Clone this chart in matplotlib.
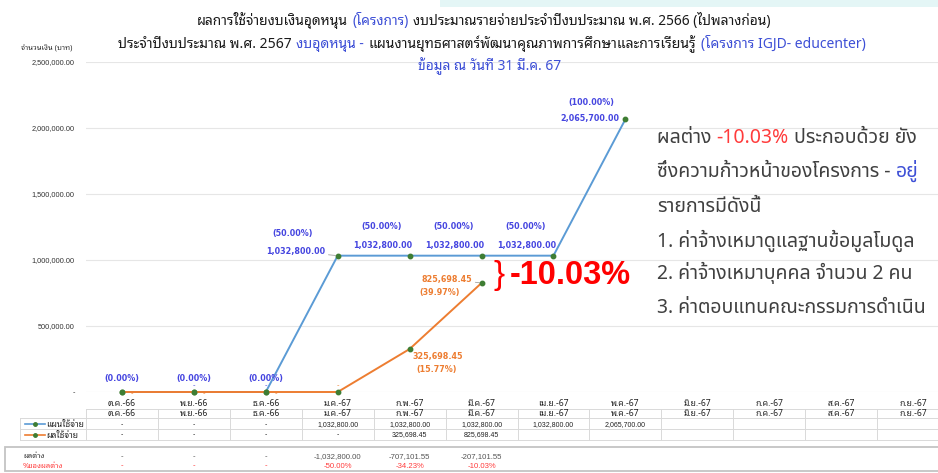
import numpy as np
import matplotlib
matplotlib.use('Agg')
import matplotlib.pyplot as plt
from matplotlib import font_manager as fm
from matplotlib.transforms import blended_transform_factory
from matplotlib.lines import Line2D
from matplotlib.patches import Rectangle

# ---------------- data ----------------
months = ['ต.ค.-66', 'พ.ย.-66', 'ธ.ค.-66', 'ม.ค.-67', 'ก.พ.-67', 'มี.ค.-67',
          'เม.ย.-67', 'พ.ค.-67', 'มิ.ย.-67', 'ก.ค.-67', 'ส.ค.-67', 'ก.ย.-67']
plan = [0, 0, 0, 1032800.00, 1032800.00, 1032800.00, 1032800.00, 2065700.00]
actual = [0, 0, 0, 0, 325698.45, 825698.45]
plan_pct = [0.00, 0.00, 0.00, 50.00, 50.00, 50.00, 50.00, 100.00]
actual_pct = [None, None, None, None, 15.77, 39.97]
diff = [None, None, None, -1032800.00, -707101.55, -207101.55]
diff_pct = [None, None, None, -50.00, -34.23, -10.03]
yticks = [0, 500000, 1000000, 1500000, 2000000, 2500000]
gap_label = '-10.03%'

title1 = [('ผลการใช้จ่ายงบเงินอุดหนุน', 'k'), ('(โครงการ)', 'b'),
          ('งบประมาณรายจ่ายประจำปีงบประมาณ พ.ศ. 2566 (ไปพลางก่อน)', 'k')]
title2 = [('ประจำปีงบประมาณ พ.ศ. 2567', 'k'), ('งบอุดหนุน -', 'b'),
          ('แผนงานยุทธศาสตร์พัฒนาคุณภาพการศึกษาและการเรียนรู้', 'k'),
          ('(โครงการ IGJD- educenter)', 'b')]
title3 = [('ข้อมูล ณ วันที่ 31 มี.ค. 67', 'b')]
ylabel = 'จำนวนเงิน (บาท)'
plan_name = 'แผนใช้จ่าย'
actual_name = 'ผลใช้จ่าย'
diff_name = 'ผลต่าง'
diffpct_name = '%ของผลต่าง'
notes = [
    [('ผลต่าง ', 'g'), ('-10.03%', 'r'), (' ประกอบด้วย ยัง', 'g')],
    [('ซึ่งความก้าวหน้าของโครงการ - ', 'g'), ('อยู่', 'b')],
    [('รายการมีดังนี้', 'g')],
    [('1. ค่าจ้างเหมาดูแลฐานข้อมูลโมดูล', 'g')],
    [('2. ค่าจ้างเหมาบุคคล จำนวน 2 คน', 'g')],
    [('3. ค่าตอบแทนคณะกรรมการดำเนิน', 'g')],
]

# ---------------- fonts ----------------
names = {f.name for f in fm.fontManager.ttflist}
def pick(cands, default='DejaVu Sans'):
    for c in cands:
        if c in names:
            return c
    return default
THAI_T = pick(['Tahoma', 'Noto Sans Thai Looped', 'Loma', 'Noto Sans Thai', 'Sarabun'])
THAI_B = pick(['Noto Sans Thai', 'Noto Sans Thai UI', 'Sarabun', 'Loma'])
FT = [THAI_T, 'DejaVu Sans']
FB = [THAI_B, 'DejaVu Sans']
NUM = ['Liberation Sans', 'DejaVu Sans']

COL = {'k': '#1a1a1a', 'b': '#3d4fd6', 'g': '#404040', 'r': '#ff3b3b'}
BLUE_LBL = '#4545e0'
ORANGE = '#ed7d31'
LBLUE = '#5b9bd5'
MGREEN = '#3e7d33'
GRID = '#d9d9d9'

W, H = 938, 473
def fy(p): return 1 - p / H
def fx(p): return p / W

fig = plt.figure(figsize=(W / 100, H / 100), dpi=100)
fig.patch.set_facecolor('white')
fig.patches.append(Rectangle((fx(440), fy(7)), 1, 7 / H, transform=fig.transFigure,
                             facecolor='#e4f6f6', edgecolor='none'))

ax = fig.add_axes([fx(86), fy(392), 863 / W, (392 - 62) / H])
ax.set_xlim(-0.5, 11.5)
ax.set_ylim(0, 2500000)
for s in ax.spines.values():
    s.set_visible(False)
ax.set_xticks([])
ax.set_yticks(yticks)
ax.set_yticklabels(['-' if v == 0 else f'{v:,.2f}' for v in yticks])
for t in ax.get_yticklabels():
    t.set_fontsize(5.3); t.set_color('#333333'); t.set_family(NUM)
ax.tick_params(axis='y', length=0, pad=8)
ax.yaxis.grid(True, color='#e6e6e6', lw=0.8)
ax.set_axisbelow(True)

xp = np.arange(len(plan))
xa = np.arange(len(actual))
ax.plot(xp, plan, color=LBLUE, lw=1.4, marker='o', ms=3.2, mfc=MGREEN, mec=MGREEN,
        clip_on=False, zorder=3)
ax.plot(xa, actual, color=ORANGE, lw=1.4, marker='o', ms=3.2, mfc=MGREEN, mec=MGREEN,
        clip_on=False, zorder=4)

lblkw = dict(textcoords='offset pixels', fontsize=5.8, fontweight='bold', family=['DejaVu Sans'])
# plan labels
for i, (v, p) in enumerate(zip(plan, plan_pct)):
    ptxt = f'({p:.2f}%)'
    if v == 0:
        ax.annotate(ptxt, (i, v), xytext=(0, 14), ha='center', va='center', color=BLUE_LBL, **lblkw)
        if i > 0:
            ax.annotate('-', (i, v), xytext=(0, 7), ha='center', va='center', color=BLUE_LBL,
                        textcoords='offset pixels', fontsize=5)
        continue
    vtxt = f'{v:,.2f}'
    if i == 3:
        ax.annotate(vtxt, (i, v), xytext=(-12, 4), ha='right', va='center', color=BLUE_LBL,
                    arrowprops=dict(arrowstyle='-', color='#a0a0a0', lw=0.6, shrinkA=0, shrinkB=1.5),
                    **lblkw)
        ax.annotate(ptxt, (i, v), xytext=(-45, 22), ha='center', va='center', color=BLUE_LBL, **lblkw)
    elif v == max(plan):
        ax.annotate(vtxt, (i, v), xytext=(-6, 1), ha='right', va='center', color=BLUE_LBL, **lblkw)
        ax.annotate(ptxt, (i, v), xytext=(-34, 17), ha='center', va='center', color=BLUE_LBL, **lblkw)
    else:
        ax.annotate(vtxt, (i, v), xytext=(-27, 10), ha='center', va='center', color=BLUE_LBL, **lblkw)
        ax.annotate(ptxt, (i, v), xytext=(-28, 29), ha='center', va='center', color=BLUE_LBL, **lblkw)

# actual labels
for i, (v, p) in enumerate(zip(actual, actual_pct)):
    if v == 0:
        if i == 3:
            ax.annotate('-', (i, v), xytext=(0, 7), ha='center', va='center', color=ORANGE,
                        textcoords='offset pixels', fontsize=5)
        else:
            ax.annotate('-', (i, v), xytext=(10, -1), ha='center', va='center', color=ORANGE,
                        textcoords='offset pixels', fontsize=5)
        continue
    vtxt = f'{v:,.2f}'
    ptxt = f'({p:.2f}%)'
    if i == len(actual) - 1:
        ax.annotate(vtxt, (i, v), xytext=(-9, 4), ha='right', va='center', color=ORANGE,
                    arrowprops=dict(arrowstyle='-', color='#a0a0a0', lw=0.6, shrinkA=0, shrinkB=1.5),
                    **lblkw)
        ax.annotate(ptxt, (i, v), xytext=(-42, -9), ha='center', va='center', color=ORANGE, **lblkw)
    else:
        ax.annotate(vtxt, (i, v), xytext=(3, -7), ha='left', va='center', color=ORANGE, **lblkw)
        ax.annotate(ptxt, (i, v), xytext=(27, -20), ha='center', va='center', color=ORANGE, **lblkw)

# big gap annotation
k = len(actual) - 1
mid = (plan[k] + actual[k]) / 2
ax.annotate('}', (k, mid), xytext=(12, -6), textcoords='offset pixels', ha='left', va='center',
            color='#ff0000', fontsize=24, family=NUM)
ax.annotate(gap_label, (k, mid), xytext=(28, -6), textcoords='offset pixels', ha='left', va='center',
            color='#ff0000', fontsize=23.5, fontweight='bold', family=NUM)

# ---------------- table ----------------
bt = blended_transform_factory(ax.transData, fig.transFigure)
ncol = len(months)
def hline(y, x0px, color=GRID, lw=0.7):
    fig.add_artist(Line2D([x0px / W, 1.02], [fy(y), fy(y)], transform=fig.transFigure,
                          color=color, lw=lw))

hline(409, 86)
for y in (418, 429, 440):
    hline(y, 20)
fig.add_artist(Line2D([fx(20), fx(20)], [fy(418), fy(440)], transform=fig.transFigure, color=GRID, lw=0.7))
for i in range(ncol + 1):
    fig.add_artist(Line2D([i - 0.5, i - 0.5], [fy(409), fy(440)], transform=bt, color=GRID, lw=0.7,
                          clip_on=False))

for i, m in enumerate(months):
    fig.text(i, fy(406), m, transform=bt, ha='center', va='baseline', fontsize=6.2,
             fontweight='bold', family=FT, color='#222222')
    fig.text(i, fy(416), m, transform=bt, ha='center', va='baseline', fontsize=6.2,
             fontweight='bold', family=FT, color='#222222')

valkw = dict(transform=bt, ha='center', va='baseline', fontsize=5, family=NUM, color='#222222')
for i in range(ncol):
    if i < len(plan):
        fig.text(i, fy(426), '-' if plan[i] == 0 else f'{plan[i]:,.2f}', **valkw)
    if i < len(actual):
        fig.text(i, fy(436.5), '-' if actual[i] == 0 else f'{actual[i]:,.2f}', **valkw)

# legend samples
for y, c, name in ((424, LBLUE, plan_name), (435, ORANGE, actual_name)):
    fig.add_artist(Line2D([fx(25), fx(45)], [fy(y), fy(y)], transform=fig.transFigure, color=c, lw=1.2))
    fig.add_artist(Line2D([fx(35)], [fy(y)], transform=fig.transFigure, color=MGREEN, marker='o', ms=2.5,
                          lw=0))
    fig.text(fx(46), fy(y + 3), name, ha='left', va='baseline', fontsize=6.2, fontweight='bold',
             family=FT, color='#222222')

# difference box
fig.patches.append(Rectangle((fx(5), fy(471)), 1.2, (471 - 447) / H, transform=fig.transFigure,
                             facecolor='white', edgecolor='#c4c4c4', lw=1.3))
fig.text(fx(23), fy(458), diff_name, ha='left', va='baseline', fontsize=5.5, family=FT, color='#333333')
fig.text(fx(23), fy(467.5), diffpct_name, ha='left', va='baseline', fontsize=5.5, family=FT, color='#ff3b3b')
for i in range(len(diff)):
    d = '-' if diff[i] is None else f'{diff[i]:,.2f}'
    dp = '-' if diff_pct[i] is None else f'{diff_pct[i]:.2f}%'
    fig.text(i, fy(458), d, transform=bt, ha='center', va='baseline', fontsize=5.6, family=NUM,
             color='#555555')
    fig.text(i, fy(467.5), dp, transform=bt, ha='center', va='baseline', fontsize=5.6, family=NUM,
             color='#ff3b3b')

# y label
fig.text(fx(47), fy(51), ylabel, ha='center', va='baseline', fontsize=5.5, fontweight='bold',
         family=FT, color='#333333')

# ---------------- titles ----------------
renderer = fig.canvas.get_renderer()
def seg_line(segs, ybase, cx, target_w, size, weight='bold', fam=FT):
    texts = [fig.text(0, 0, s, color=COL[c], fontsize=size, fontweight=weight, family=fam,
                      va='baseline', ha='left') for s, c in segs]
    def widths():
        return [t.get_window_extent(renderer).width for t in texts]
    ws = widths()
    gap = 0.32 * size * 100 / 72
    total = sum(ws) + gap * (len(ws) - 1)
    sc = target_w / total
    size = size * sc
    for t in texts:
        t.set_fontsize(size)
    ws = widths()
    gap = 0.32 * size * 100 / 72
    total = sum(ws) + gap * (len(ws) - 1)
    x = cx - total / 2
    for t, w in zip(texts, ws):
        t.set_position((fx(x), fy(ybase)))
        x += w + gap
    return texts

seg_line(title1, 25, 484, 575, 9.5)
seg_line(title2, 48, 492, 748, 9.5)
seg_line(title3, 70, 490, 143, 9.5)

# ---------------- notes ----------------
def seg_left(segs, ybase, x0, size):
    x = x0
    for s, c in segs:
        t = fig.text(fx(x), fy(ybase), s, color=COL[c], fontsize=size, family=FB, va='baseline', ha='left')
        x += t.get_window_extent(renderer).width

for ln, yb in zip(notes, [143, 177, 212, 247, 279, 313]):
    seg_left(ln, yb, 657, 14)

fig.savefig('out.png', dpi=100, facecolor='white')
